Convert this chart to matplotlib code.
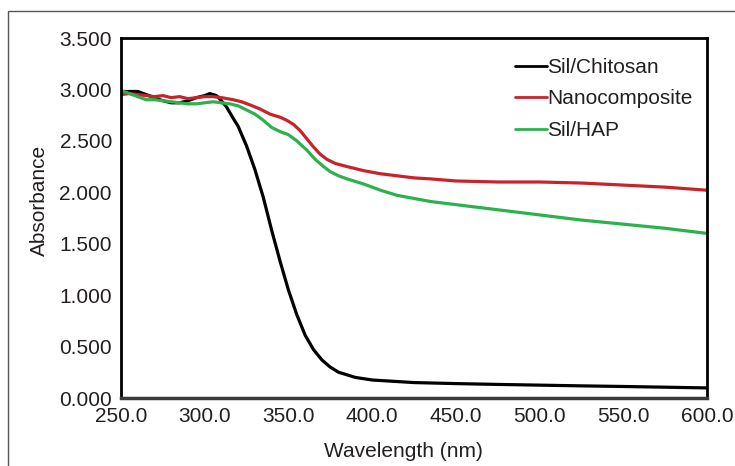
import matplotlib
matplotlib.use("Agg")
import matplotlib.pyplot as plt
from matplotlib.patches import Rectangle

plt.rcParams['font.family'] = ['Liberation Sans', 'DejaVu Sans']

wl_chitosan = [250, 255, 260, 265, 270, 275, 280, 285, 290, 295, 300, 303, 307, 310, 313, 317, 320,
               325, 330, 335, 340, 345, 350, 355, 360, 365, 370, 375, 380, 390, 400, 425, 450,
               475, 500, 525, 550, 575, 600]
abs_chitosan = [2.98, 2.98, 2.98, 2.95, 2.92, 2.89, 2.87, 2.87, 2.89, 2.92, 2.94, 2.96, 2.94, 2.89, 2.83,
                2.72, 2.64, 2.45, 2.22, 1.95, 1.63, 1.33, 1.05, 0.81, 0.61, 0.47, 0.37, 0.30, 0.25,
                0.20, 0.175, 0.150, 0.140, 0.132, 0.125, 0.118, 0.112, 0.105, 0.098]

wl_nano = [250, 255, 260, 265, 270, 275, 280, 285, 290, 295, 300, 305, 310, 317, 322, 327, 333,
           339, 345, 349, 353, 357, 361, 365, 369, 373, 378, 385, 395, 405, 415, 425, 435,
           450, 475, 500, 525, 550, 575, 600]
abs_nano = [2.95, 2.96, 2.95, 2.94, 2.93, 2.94, 2.92, 2.93, 2.91, 2.92, 2.93, 2.93, 2.92, 2.90, 2.88, 2.85, 2.81,
            2.76, 2.73, 2.70, 2.66, 2.60, 2.52, 2.44, 2.37, 2.32, 2.28, 2.25, 2.21, 2.18, 2.16, 2.14, 2.13,
            2.11, 2.10, 2.10, 2.09, 2.07, 2.05, 2.02]

wl_hap = [250, 255, 260, 265, 270, 275, 280, 285, 290, 295, 300, 305, 310, 315, 320, 325, 330,
          335, 340, 345, 350, 355, 361, 366, 371, 375, 380, 385, 395, 405, 415, 425, 435,
          450, 475, 500, 525, 550, 575, 600]
abs_hap = [2.99, 2.96, 2.93, 2.90, 2.90, 2.89, 2.88, 2.87, 2.86, 2.86, 2.87, 2.88, 2.87, 2.86, 2.84, 2.80, 2.76,
           2.70, 2.63, 2.59, 2.56, 2.50, 2.41, 2.32, 2.25, 2.20, 2.16, 2.13, 2.08, 2.02, 1.97, 1.94, 1.91,
           1.88, 1.83, 1.78, 1.73, 1.69, 1.65, 1.60]

x_ticks = [250, 300, 350, 400, 450, 500, 550, 600]
y_ticks = [0.0, 0.5, 1.0, 1.5, 2.0, 2.5, 3.0, 3.5]

FS = 15

fig = plt.figure(figsize=(7.35, 4.66), dpi=100)
fig.patch.set_facecolor('white')
fig.patches.append(Rectangle((8/735, -0.2), 1.2, 1 - 11/466 + 0.2, transform=fig.transFigure,
                             fill=False, edgecolor='#555555', linewidth=1.0, zorder=0))

ax = fig.add_axes([121/735, 1 - 398/466, (707 - 121)/735, (398 - 38)/466])
ax.plot(wl_chitosan, abs_chitosan, color='#000000', lw=2.3, label='Sil/Chitosan', solid_capstyle='round')
ax.plot(wl_nano, abs_nano, color='#c8232b', lw=2.3, label='Nanocomposite', solid_capstyle='round')
ax.plot(wl_hap, abs_hap, color='#2bb24c', lw=2.3, label='Sil/HAP', solid_capstyle='round')

ax.set_xlim(250, 600)
ax.set_ylim(0, 3.5)
ax.set_xticks(x_ticks)
ax.set_xticklabels([f"{v:.1f}" for v in x_ticks])
ax.set_yticks(y_ticks)
ax.set_yticklabels([f"{v:.3f}" for v in y_ticks])
ax.tick_params(length=0, labelsize=FS, colors='#231f20')
ax.tick_params(axis='x', pad=6.5)
ax.tick_params(axis='y', pad=6.5)
for s in ['left', 'top', 'right']:
    ax.spines[s].set_linewidth(2.0)
    ax.spines[s].set_color('black')
ax.spines['bottom'].set_linewidth(2.5)
ax.spines['bottom'].set_color('#3a3a3a')

ax.set_xlabel('Wavelength (nm)', fontsize=FS, color='#231f20')
ax.set_ylabel('Absorbance', fontsize=FS, color='#231f20')
ax.xaxis.set_label_coords(0.482, -0.123)
ax.yaxis.set_label_coords(-0.123, 0.549)

leg = ax.legend(loc='upper right', bbox_to_anchor=(1.0085, 1.0), frameon=False, fontsize=FS,
                handlelength=1.55, handletextpad=0.0, labelspacing=0.6, borderaxespad=0.55)
for line in leg.get_lines():
    line.set_linewidth(2.0)
for t in leg.get_texts():
    t.set_color('#231f20')

fig.savefig('out.png', dpi=100)
